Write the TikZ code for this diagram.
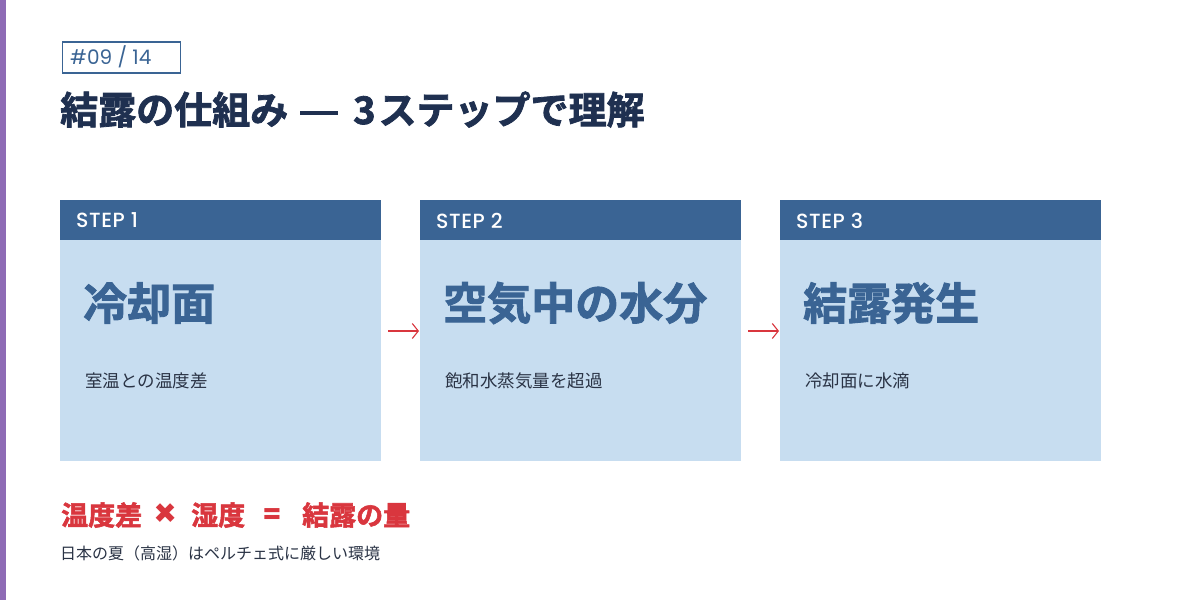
\documentclass[tikz,border=0pt]{standalone}
\usepackage{fontspec}
\setmainfont{Noto Sans CJK JP}
\newfontfamily\cjk{Noto Sans CJK JP}
\newfontfamily\cjkb[FakeBold=2]{Noto Sans CJK JP Bold}
\newfontfamily\pop{Poppins}
\newfontfamily\popm[LetterSpace=3]{Poppins Medium}
\usetikzlibrary{arrows.meta}
\definecolor{navy}{HTML}{1F3050}
\definecolor{steel}{HTML}{3A6494}
\definecolor{pale}{HTML}{C7DDF0}
\definecolor{accent}{HTML}{D9363E}
\definecolor{purp}{HTML}{8E6BB5}
\definecolor{txt}{HTML}{2A3345}
\tikzset{
  hdr/.style={fill=steel,draw=none},
  bodybox/.style={fill=pale,draw=none},
  steplbl/.style={anchor=west,text=white,font=\popm\fontsize{20.5}{22}\selectfont,inner sep=0},
  bigt/.style={anchor=west,text=steel,font=\cjkb\fontsize{44}{48}\selectfont,inner sep=0},
  subt/.style={anchor=west,text=txt,font=\cjk\fontsize{17.5}{19}\selectfont,inner sep=0},
  eqt/.style={anchor=west,text=accent,font=\cjkb\fontsize{27}{30}\selectfont,inner sep=0},
  eqs/.style={anchor=center,text=accent,font=\pop\bfseries\fontsize{27}{30}\selectfont,inner sep=0},
  flow/.style={draw=accent,line width=1.1pt,-{Straight Barb[length=6pt,width=15pt]}},
}
\begin{document}
\begin{tikzpicture}[x=1pt,y=-1pt]
\useasboundingbox (0,0) rectangle (1200,600);
\fill[white] (0,0) rectangle (1200,600);
\fill[purp] (0,0) rectangle (6,600);
\node[draw=steel,line width=1.5pt,minimum width=118pt,minimum height=31pt,anchor=north west,inner sep=0] (tag) at (61.5,41) {};
\node[anchor=west,text=steel,font=\pop\fontsize{20}{22}\selectfont,inner sep=0] (tagt) at (70,56.5) {\#09 / 14};
\node[anchor=base west,text=navy,font=\cjkb\fontsize{38}{40}\selectfont,inner sep=0] (title) at (60,124) {結露の仕組み\hspace{12pt}\rule[9pt]{38pt}{4pt}\hspace{15pt}3\hspace{3pt}ステップで理解};
% boxes
\foreach \i/\x/\big/\sub in {1/60/冷却面/室温との温度差, 2/420/空気中の水分/飽和水蒸気量を超過, 3/780/結露発生/冷却面に水滴}{
  \fill[bodybox] (\x,240) rectangle ++(321,221);
  \fill[hdr] (\x,200) rectangle ++(321,40);
  \node[steplbl] (s\i) at (\x+16,220.5) {STEP \i};
  \node[bigt] (b\i) at (\x+23,303) {\big};
  \node[subt] (t\i) at (\x+25,381) {\sub};
}
\coordinate (a1s) at (388,331); \coordinate (a1e) at (419,331);
\coordinate (a2s) at (748,331); \coordinate (a2e) at (779,331);
\draw[flow] (a1s) -- (a1e);
\draw[flow] (a2s) -- (a2e);
\node[eqt] (e1) at (61,515) {温度差};
\node[eqs,font=\pop\bfseries\fontsize{38}{40}\selectfont] (e2) at (166,515) {×};
\node[eqt] (e3) at (191,515) {湿度};
\node[eqs] (e4) at (272,516) {=};
\node[eqt] (e5) at (302,515) {結露の量};
\node[anchor=west,text=txt,font=\cjk\fontsize{16}{18}\selectfont,inner sep=0] (note) at (60,553) {日本の夏（高湿）はペルチェ式に厳しい環境};
\end{tikzpicture}
\end{document}
